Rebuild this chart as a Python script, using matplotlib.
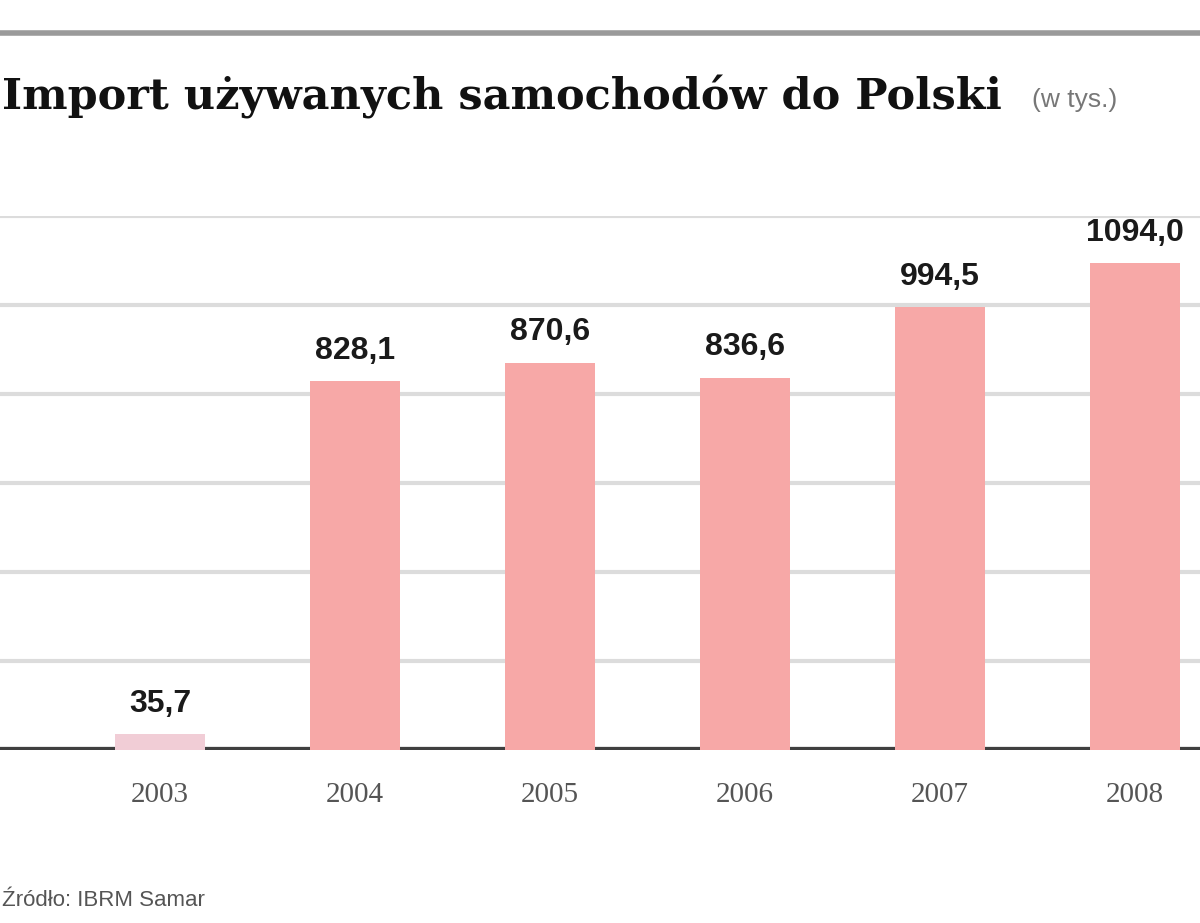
import numpy as np
import matplotlib
matplotlib.use("Agg")
import matplotlib.pyplot as plt

# data (thousands of cars)
years = ["2003", "2004", "2005", "2006", "2007", "2008"]
imports = [35.7, 828.1, 870.6, 836.6, 994.5, 1094.0]
value_labels = ["35,7", "828,1", "870,6", "836,6", "994,5", "1094,0"]
grid_levels = [200, 400, 600, 800, 1000, 1200]

W, H = 1200, 923
fig = plt.figure(figsize=(W / 100, H / 100), dpi=100)
fig.patch.set_facecolor("white")

# axes: x from 0 to 1200 px, baseline at y=750, 1200 level at y=216
ax = fig.add_axes([0, 1 - 750 / H, 1, (750 - 216) / H])
ax.set_facecolor("none")

x = np.arange(len(years))
ax.set_xlim(-160 / 195, 5 + 65 / 195)
ax.set_ylim(0, 1200)

for g in grid_levels:
  ax.axhline(g, color="#dcdcdc", lw=3, zorder=1)
ax.axhline(0, color="#3f3f3f", lw=4.5, zorder=2)

colors = ["#f1cdd6"] + ["#f7a8a7"] * (len(years) - 1)
ax.bar(x, imports, width=0.46, color=colors, zorder=3, clip_on=False)

for xi, v, lab in zip(x, imports, value_labels):
  ax.text(xi, v + 35, lab, ha="center", va="bottom", fontsize=23,
          fontweight="bold", family="Liberation Sans", color="#1a1a1a",
          clip_on=False, zorder=4)

for xi, yr in zip(x, years):
  ax.text(xi, -100, yr, ha="center", va="center", fontsize=21,
          family="Liberation Serif", color="#555555", clip_on=False)

ax.set_xticks([])
ax.set_yticks([])
for s in ax.spines.values():
  s.set_visible(False)

# top rule and titles
fig.add_artist(plt.Line2D([0, 1], [1 - 33 / H, 1 - 33 / H], color="#9a9a9a", lw=4))
fig.text(2 / W, 1 - 97 / H, "Import używanych samochodów do Polski", ha="left",
         va="center", fontsize=31, fontweight="bold", family="DejaVu Serif",
         color="#111111")
fig.text(1032 / W, 1 - 100 / H, "(w tys.)", ha="left", va="center", fontsize=19,
         family="Liberation Sans", color="#777777")
fig.text(2 / W, 1 - 900 / H, "Źródło: IBRM Samar", ha="left", va="center", fontsize=16,
         family="Liberation Sans", color="#555555")

fig.savefig("out.png", dpi=100, facecolor="white")
